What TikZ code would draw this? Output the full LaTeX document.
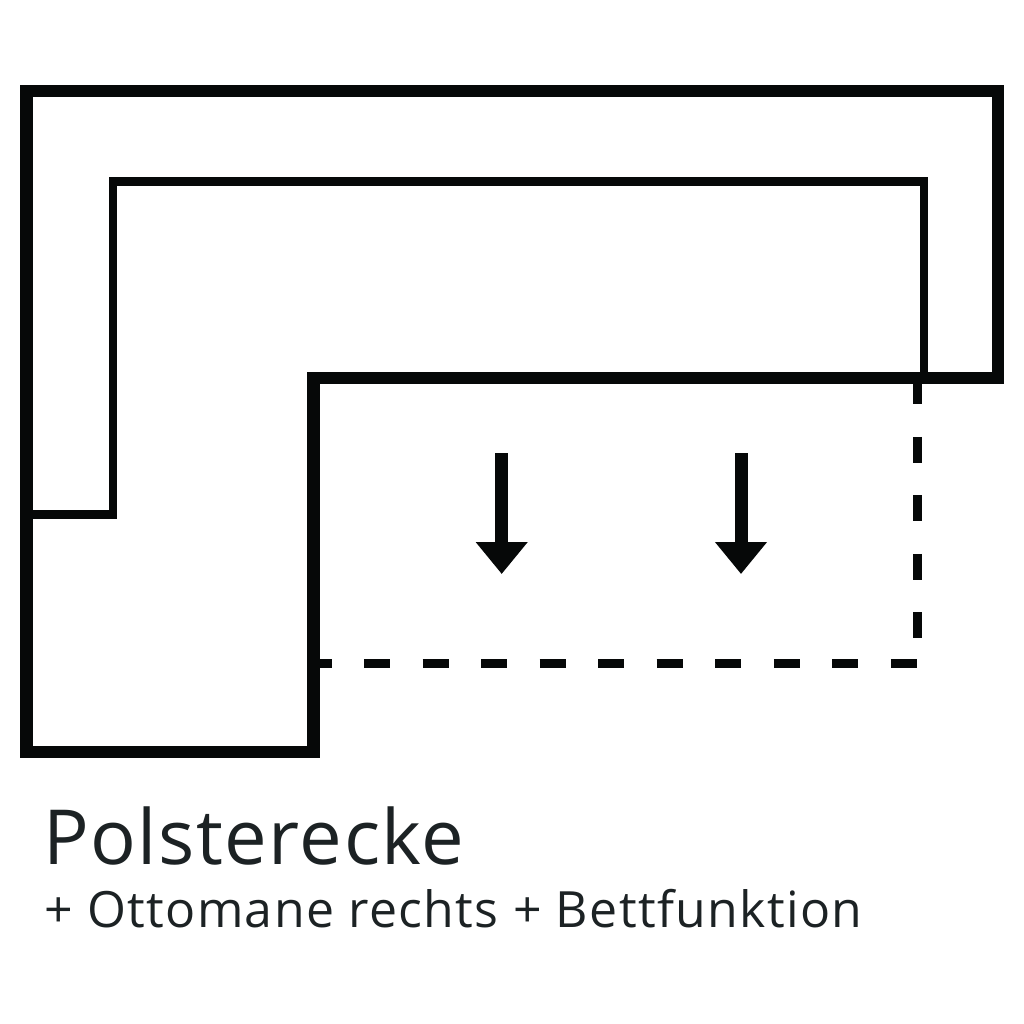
\documentclass[tikz,border=0pt]{standalone}
\usepackage{fontspec}
\setmainfont{Open Sans}
\usetikzlibrary{arrows.meta}
\definecolor{sofaink}{HTML}{060808}
\definecolor{captionink}{HTML}{1C2224}
\tikzset{
    outline/.style={draw=sofaink, line width=12.5pt*0.75, line join=miter},
    seam/.style={draw=sofaink, line width=8.5pt*0.75, line join=miter},
    extension/.style={draw=sofaink, line width=9pt*0.75, dash pattern=on 19.5pt off 24.4pt},
    pullout/.style={draw=sofaink, line width=13pt*0.75, -{Triangle[length=24pt, width=37.5pt]}},
    caption/.style={anchor=base west, inner sep=0pt, text=captionink}
}
\begin{document}
\begin{tikzpicture}[x=0.75pt, y=-0.75pt]
    \useasboundingbox (0,0) rectangle (1024,1024);
    % seat line
    \coordinate (seatend) at (26.5,514.5);
    \coordinate (seatknee) at (113,514.5);
    \coordinate (seattl) at (113,181.5);
    \coordinate (seattr) at (924,181.5);
    \coordinate (seatbr) at (924,378);
    \draw[seam] (seatend) -- (seatknee) -- (seattl) -- (seattr) -- (seatbr);
    % pull out part
    \coordinate (dashtop) at (917.5,378.3);
    \coordinate (dashcorner) at (917.5,663);
    \coordinate (dashend) at (313.5,663);
    \draw[extension] (dashtop) -- (dashcorner);
    \draw[extension, dash phase=6pt] (dashend) -- (dashcorner);
    % frame of the corner sofa
    \coordinate (otl) at (26.5,91);
    \coordinate (otr) at (998,91);
    \coordinate (obr) at (998,378);
    \coordinate (inner) at (313.5,378);
    \coordinate (obl) at (313.5,752);
    \coordinate (bbl) at (26.5,752);
    \draw[outline] (otl) -- (otr) -- (obr) -- (inner) -- (obl) -- (bbl) -- cycle;
    % arrows
    \coordinate (arrowa) at (501.7,453);
    \coordinate (arrowaend) at (501.7,574);
    \coordinate (arrowb) at (741,453);
    \coordinate (arrowbend) at (741,574);
    \draw[pullout] (arrowa) -- (arrowaend);
    \draw[pullout] (arrowb) -- (arrowbend);
    % caption
    \node[caption, font=\fontsize{57pt}{57pt}\selectfont\addfontfeature{LetterSpace=2.0}] (title) at (43,864) {Polsterecke};
    \node[caption, font=\fontsize{37.5pt}{37.5pt}\selectfont\addfontfeature{LetterSpace=2.7}] (subtitle) at (44,927) {+ Ottomane rechts + Bettfunktion};
\end{tikzpicture}
\end{document}
